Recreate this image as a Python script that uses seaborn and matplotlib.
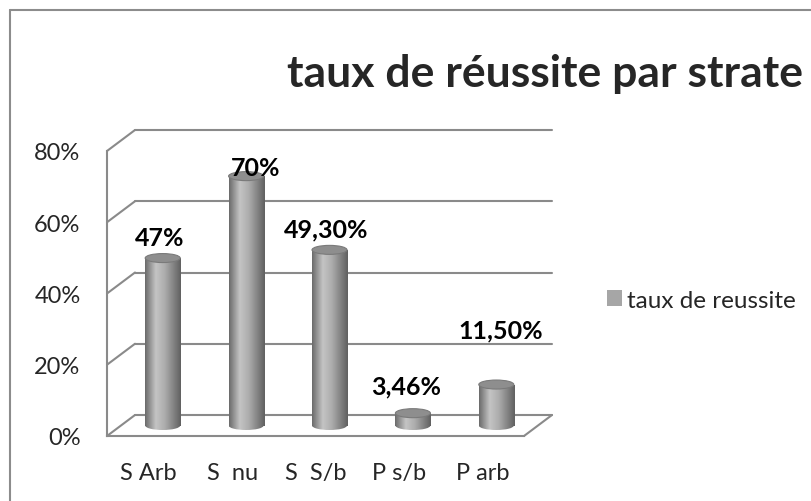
import numpy as np
import matplotlib
matplotlib.use("Agg")
import matplotlib.pyplot as plt
import seaborn as sns
import pandas as pd
from matplotlib.patches import Ellipse, Patch
from matplotlib.lines import Line2D
from matplotlib.colors import LinearSegmentedColormap

# ---- data ----
categories = ["S Arb", "S  nu", "S  S/b", "P s/b", "P arb"]
values = [0.47, 0.70, 0.493, 0.0346, 0.115]
value_labels = ["47%", "70%", "49,30%", "3,46%", "11,50%"]
y_ticks = [0, 0.2, 0.4, 0.6, 0.8]
y_tick_labels = ["0%", "20%", "40%", "60%", "80%"]
series_name = "taux de reussite"
title = "taux de réussite par strate"

# label placement offsets (pixels, relative to bar top centre)
label_dx_px = [-3, 10, -3, -7, 4]
label_dy_px = [21, 9, 21, 27, 55]

sns.set_style("white")
plt.rcParams['font.family'] = ['Lato', 'DejaVu Sans']

W, H = 812, 502
fig = plt.figure(figsize=(W / 100, H / 100), dpi=100)
ax = fig.add_axes([107 / W, (H - 437) / H, 417 / W, 285 / H])

df = pd.DataFrame({"cat": categories, "val": values})
sns.barplot(data=df, x="cat", y="val", width=0.42, color="#a6a6a6", ax=ax, zorder=3)

ax.set_xlim(-0.5, 4.5)
ax.set_ylim(0, 0.8)
px_x = 417 / 5.0
px_y = 285 / 0.8
DX = 28 / px_x
DY = 21 / px_y
EH = 9 / px_y

grid_col = "#8a8a8a"
# back wall gridlines and side wall diagonals
for y in y_ticks:
    ax.plot([-0.5 + DX, 4.5 + DX], [y + DY, y + DY], color=grid_col, lw=1.5, clip_on=False, zorder=1)
    ax.plot([-0.5, -0.5 + DX], [y, y + DY], color=grid_col, lw=1.5, clip_on=False, zorder=1)
ax.plot([4.5, 4.5 + DX], [0, DY], color=grid_col, lw=1.5, clip_on=False, zorder=1)

cmap = LinearSegmentedColormap.from_list(
    "cyl", [(0, "#6a6a6a"), (0.3, "#c4c4c4"), (0.55, "#adadad"), (1, "#606060")])
grad = np.linspace(0, 1, 256).reshape(1, -1)

bars = list(ax.patches)
for i, p in enumerate(bars):
    p.set_x(p.get_x() + DX / 2)
    p.set_y(DY / 2)
    p.set_facecolor("none")
    p.set_edgecolor("none")
    x0, w, y0, h = p.get_x(), p.get_width(), p.get_y(), p.get_height()
    im = ax.imshow(grad, extent=[x0, x0 + w, y0 - EH / 2, y0 + h], aspect="auto",
                   cmap=cmap, zorder=3, interpolation="bilinear")
    im.set_clip_path(p)
    e = Ellipse((x0 + w / 2, y0), w, EH, facecolor="none", edgecolor="none")
    ax.add_patch(e)
    im2 = ax.imshow(grad, extent=[x0, x0 + w, y0 - EH / 2, y0 + h], aspect="auto",
                    cmap=cmap, zorder=3, interpolation="bilinear")
    im2.set_clip_path(e)
    top = Ellipse((x0 + w / 2, y0 + h), w, EH, facecolor="#8e8e8e",
                  edgecolor="#7a7a7a", lw=0.8, zorder=4)
    ax.add_patch(top)
    ax.annotate(value_labels[i], xy=(x0 + w / 2, y0 + h),
                xytext=(label_dx_px[i] * 0.72, label_dy_px[i] * 0.72),
                textcoords="offset points", ha="center", va="center",
                fontsize=18, fontweight="bold", color="black", zorder=6,
                annotation_clip=False)

ax.set_xlim(-0.5, 4.5)
ax.set_ylim(0, 0.8)
ax.set_xlabel("")
ax.set_ylabel("")

for s in ["top", "right"]:
    ax.spines[s].set_visible(False)
for s in ["left", "bottom"]:
    ax.spines[s].set_color(grid_col)
    ax.spines[s].set_linewidth(1.5)

ax.set_yticks(y_ticks, y_tick_labels)
ax.set_xticks(np.arange(-0.5, 5, 1.0), [""] * 6)
ax.set_xticks(range(len(categories)), categories, minor=True)
ax.tick_params(axis="y", length=7, width=1.5, color=grid_col, pad=12, labelsize=17)
ax.tick_params(axis="x", which="major", length=7, width=1.5, color=grid_col)
ax.tick_params(axis="x", which="minor", length=0, pad=19, labelsize=17)

fig.legend(handles=[Patch(facecolor="#a6a6a6", edgecolor="none", label=series_name)],
           loc="center left", bbox_to_anchor=(607 / W, 1 - 301 / H), frameon=False,
           borderpad=0, borderaxespad=0, handlelength=0.62, handleheight=0.62,
           handletextpad=0.2, fontsize=17.5)

fig.text(545 / W, 1 - 74 / H, title, ha="center", va="center", fontsize=32, fontweight="bold")

fig.add_artist(Line2D([10.5 / W, 10.5 / W], [0, 1 - 11 / H], transform=fig.transFigure,
                      color="#8c8c8c", lw=1.5))
fig.add_artist(Line2D([10.5 / W, 1], [1 - 11 / H, 1 - 11 / H], transform=fig.transFigure,
                      color="#8c8c8c", lw=1.5))

fig.savefig("out.png", dpi=100)
